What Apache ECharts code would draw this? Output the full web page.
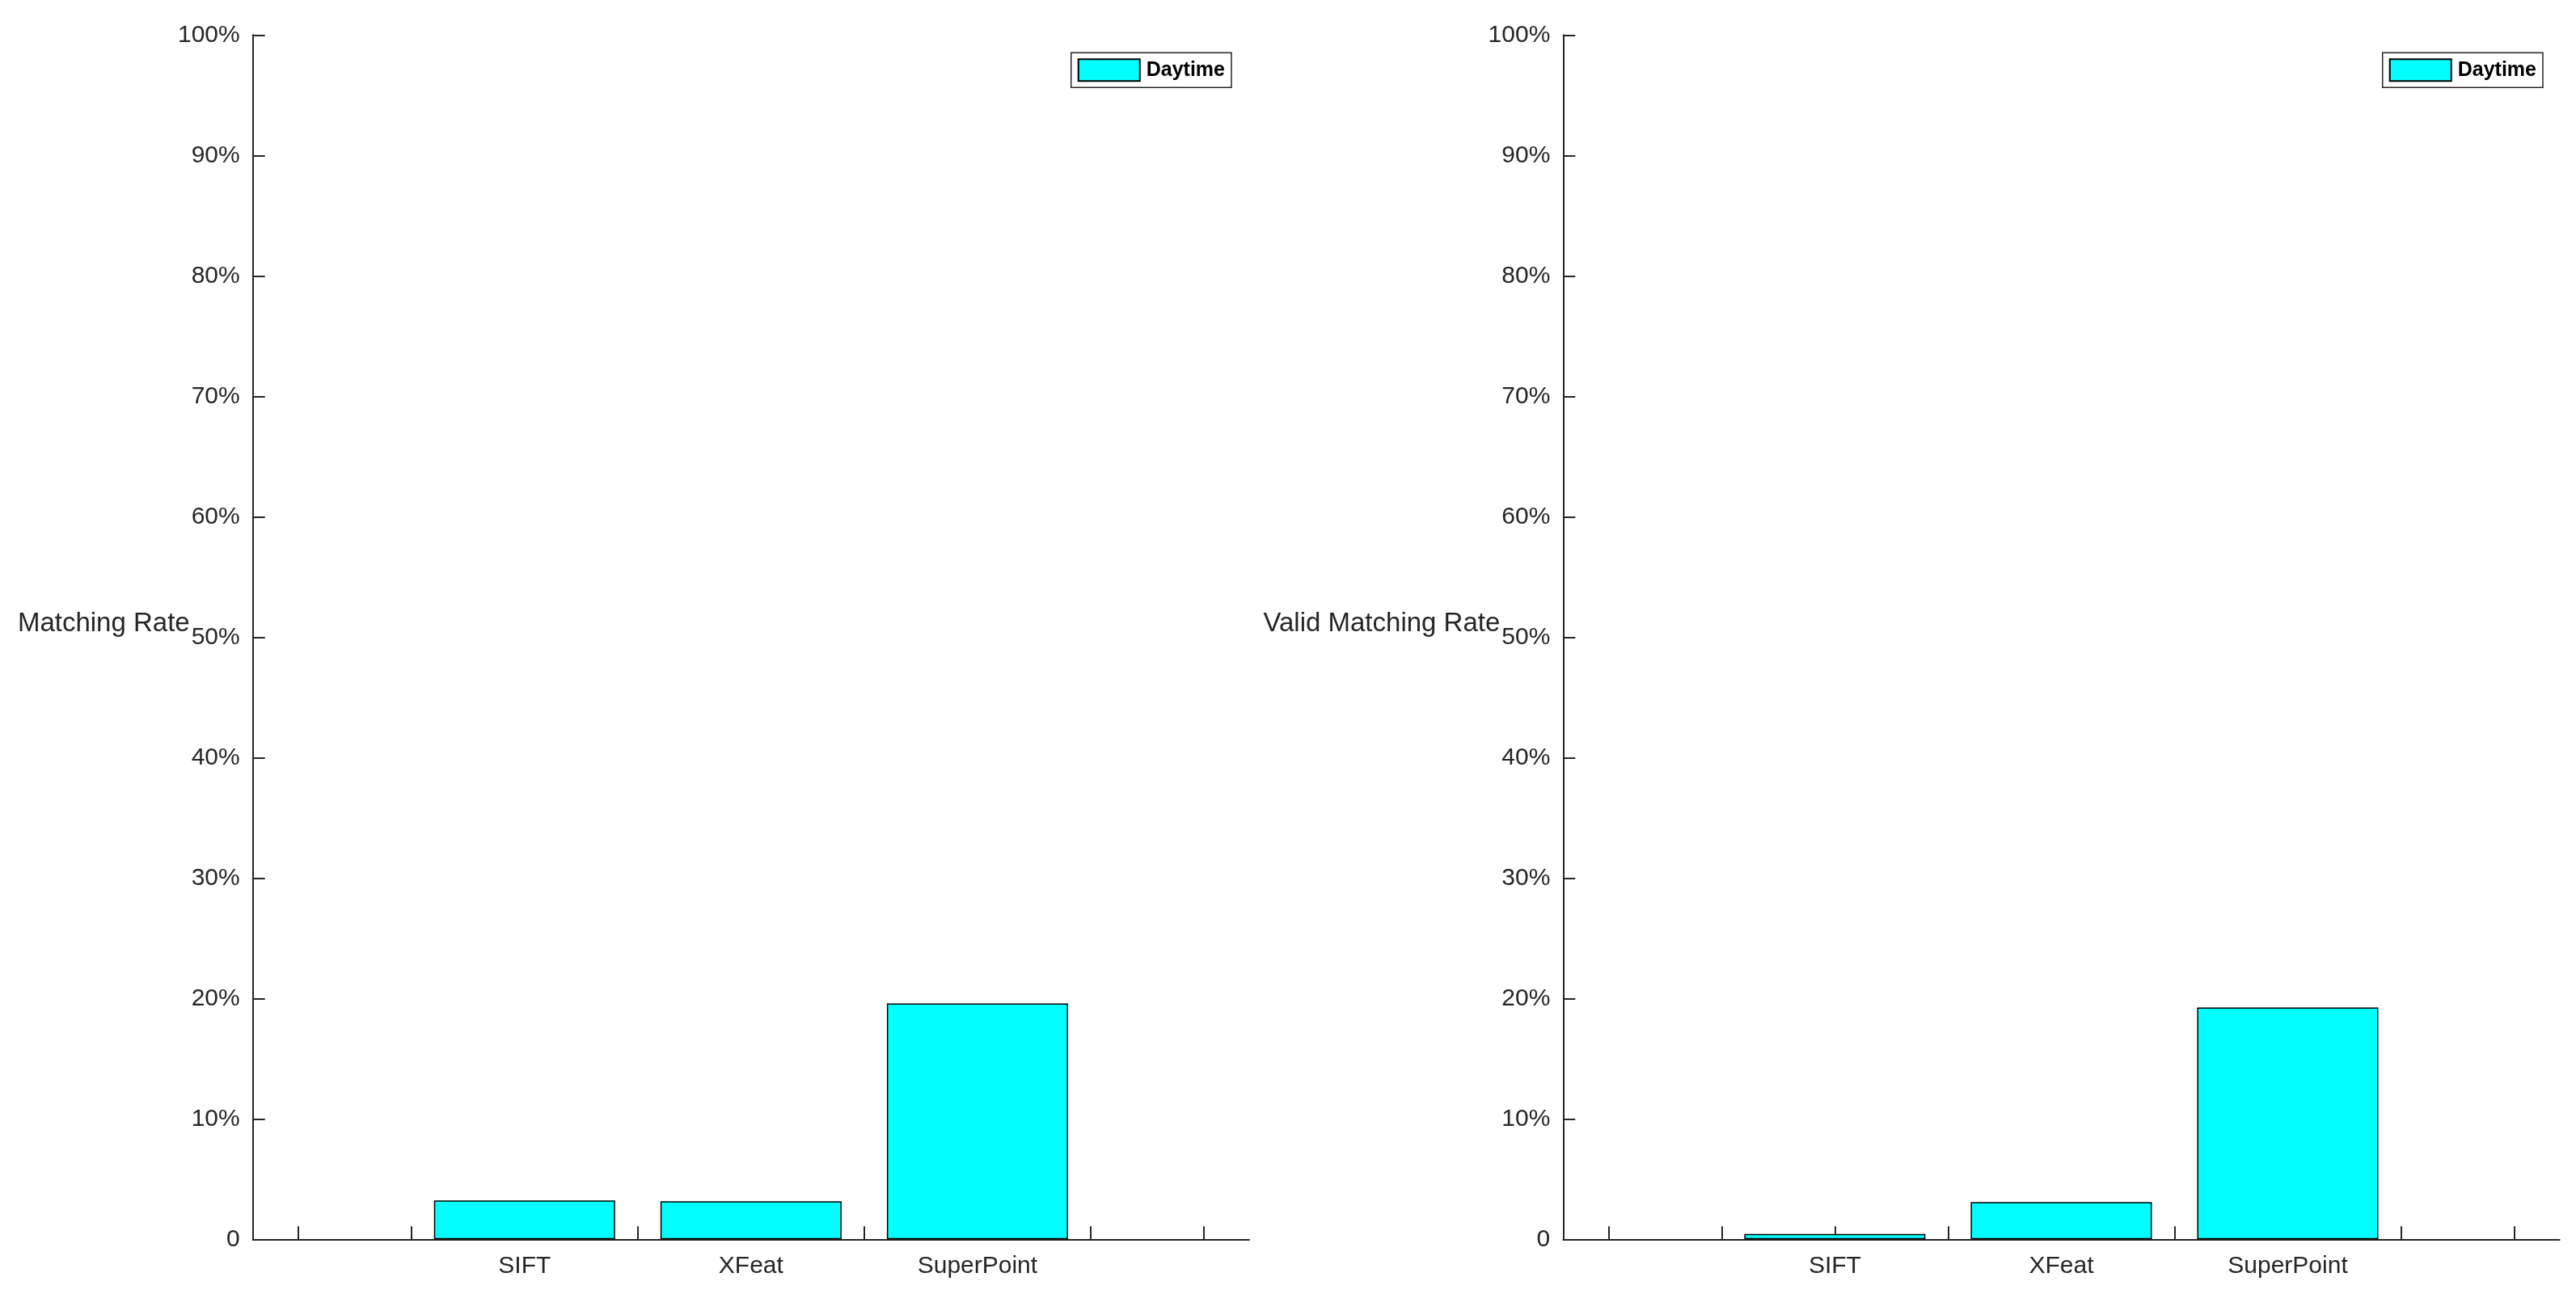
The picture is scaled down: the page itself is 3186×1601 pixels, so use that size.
<!DOCTYPE html>
<html>
<head>
<meta charset="utf-8">
<script src="https://cdn.jsdelivr.net/npm/echarts@6/dist/echarts.min.js"></script>
<style>
html,body{margin:0;padding:0;background:#ffffff;}
#chart{width:3186px;height:1601px;}
</style>
</head>
<body>
<div id="chart"></div>
<script>
// ---- data ----
const categories = ['SIFT', 'XFeat', 'SuperPoint'];
const matchingRate = [3.22, 3.15, 19.58];        // % (left panel)
const validMatchingRate = [0.44, 3.09, 19.24];   // % (right panel)
const seriesName = 'Daytime';
const yAxisNames = ['Matching Rate', 'Valid Matching Rate'];
const yTickLabels = ['0', '10%', '20%', '30%', '40%', '50%', '60%', '70%', '80%', '90%', '100%'];
const xTickPositions = [-1, -0.5, 0, 0.5, 1, 1.5, 2, 2.5, 3];
const xLabelPositions = [0, 1, 2];

const FONT = 'Liberation Sans, Arial, Helvetica, sans-serif';
const AXIS_COLOR = '#262626';

const panels = [
  { left: 312.7, values: matchingRate, name: yAxisNames[0], legendRight: 1663 },
  { left: 1933.3, values: validMatchingRate, name: yAxisNames[1], legendRight: 41 }
];

const grid = [], xAxis = [], yAxis = [], series = [], legend = [];
panels.forEach((p, i) => {
  grid.push({ left: p.left, top: 43.3, width: 1232.3, height: 1490, containLabel: false });
  xAxis.push({
    type: 'value', gridIndex: i, min: -1.2, max: 3.2,
    axisLine: { show: true, onZero: false, lineStyle: { color: AXIS_COLOR, width: 2 } },
    axisTick: { show: true, inside: true, length: 16, customValues: xTickPositions,
                lineStyle: { color: AXIS_COLOR, width: 2 } },
    axisLabel: { show: true, customValues: xLabelPositions, margin: 18,
                 fontFamily: FONT, fontSize: 30, color: AXIS_COLOR,
                 formatter: v => categories[Math.round(v)] },
    splitLine: { show: false }
  });
  yAxis.push({
    type: 'value', gridIndex: i, min: 0, max: 100, interval: 10,
    name: p.name, nameLocation: 'middle', nameRotate: 0, nameGap: 78, nameMoveOverlap: false,
    nameTextStyle: { fontFamily: FONT, fontSize: 33, color: AXIS_COLOR, verticalAlign: 'bottom' },
    axisLine: { show: true, onZero: false, lineStyle: { color: AXIS_COLOR, width: 2 } },
    axisTick: { show: true, inside: true, length: 15, lineStyle: { color: AXIS_COLOR, width: 2 } },
    axisLabel: { margin: 16, fontFamily: FONT, fontSize: 30, color: AXIS_COLOR,
                 formatter: v => yTickLabels[Math.round(v / 10)] },
    splitLine: { show: false }
  });
  series.push({
    type: 'bar', name: seriesName, xAxisIndex: i, yAxisIndex: i,
    barWidth: '80%',
    itemStyle: { color: '#00FFFF', borderColor: '#000000', borderWidth: 1.5 },
    data: p.values.map((v, k) => [k, v]),
    emphasis: { disabled: true }
  });
  legend.push({
    data: [seriesName], right: p.legendRight, top: 65.3, orient: 'vertical',
    icon: 'rect', itemWidth: 76, itemHeight: 27,
    padding: [7, 8, 7, 8],
    backgroundColor: '#ffffff', borderColor: AXIS_COLOR, borderWidth: 1.5, borderRadius: 0,
    selectedMode: false,
    textStyle: { fontFamily: FONT, fontSize: 25, fontWeight: 'bold', color: '#000000', padding: [0, 0, 0, 3] }
  });
});

const chart = echarts.init(document.getElementById('chart'), null, { renderer: 'canvas' });
chart.setOption({
  backgroundColor: '#ffffff',
  animation: false,
  grid: grid,
  xAxis: xAxis,
  yAxis: yAxis,
  legend: legend,
  series: series
});
</script>
</body>
</html>
